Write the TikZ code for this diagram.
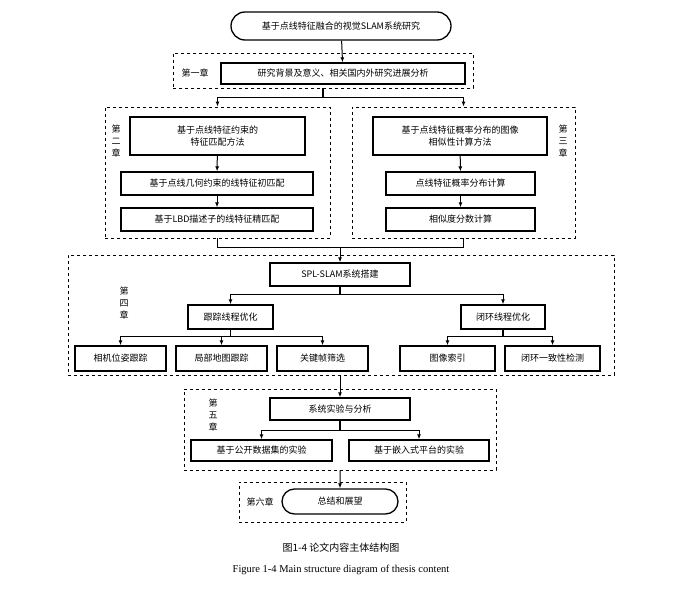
\documentclass[tikz,border=0pt]{standalone}
\usepackage{fontspec}
\setmainfont{Liberation Serif}
\newfontfamily\cjk{Noto Sans CJK SC}
\usetikzlibrary{arrows.meta,positioning,shapes.misc}
\begin{document}
\begin{tikzpicture}[x=1pt,y=-1pt,>={Latex[length=5pt,width=4pt]},
  box/.style={draw,line width=1.3pt,inner sep=1pt,font=\cjk\fontsize{9}{12}\selectfont,align=center},
  rbox/.style={box,rounded rectangle},
  dbox/.style={draw,dashed,line width=0.8pt,inner sep=0pt},
  lab/.style={font=\cjk\fontsize{9}{12}\selectfont,align=center,inner sep=0pt},
  line/.style={line width=1.3pt},
  arr/.style={line width=1pt,->}]
\useasboundingbox (0,0) rectangle (679,594);
% dashed chapter frames
\node[dbox,minimum width=300,minimum height=35] (c1) at (323,70.5) {};
\node[dbox,minimum width=225,minimum height=131] (c2) at (217.5,172.5) {};
\node[dbox,minimum width=223,minimum height=131] (c3) at (463.5,172.5) {};
\node[dbox,minimum width=546,minimum height=120] (c4) at (341,315) {};
\node[dbox,minimum width=312,minimum height=81] (c5) at (340,429.5) {};
\node[dbox,minimum width=167,minimum height=40] (c6) at (322.5,502) {};
% chapter labels
\node[lab] (l1) at (195,73) {第一章};
\node[lab] (l2) at (116,141) {第\\二\\章};
\node[lab] (l3) at (563,141) {第\\三\\章};
\node[lab] (l4) at (124,303) {第\\四\\章};
\node[lab] (l5) at (213,415) {第\\五\\章};
\node[lab] (l6) at (260,502) {第六章};
% boxes
\node[rbox,minimum width=222,minimum height=28] (top) at (341,26) {基于点线特征融合的视觉SLAM系统研究};
\node[box,minimum width=244,minimum height=21] (a1) at (343,73.5) {研究背景及意义、相关国内外研究进展分析};
\node[box,minimum width=175,minimum height=38] (b1) at (217.5,136) {基于点线特征约束的\\特征匹配方法};
\node[box,minimum width=192,minimum height=23] (b2) at (217,183.5) {基于点线几何约束的线特征初匹配};
\node[box,minimum width=192,minimum height=23] (b3) at (217,219.5) {基于LBD描述子的线特征精匹配};
\node[box,minimum width=174,minimum height=38] (d1) at (460,136) {基于点线特征概率分布的图像\\相似性计算方法};
\node[box,minimum width=149,minimum height=23] (d2) at (460.5,183.5) {点线特征概率分布计算};
\node[box,minimum width=149,minimum height=23] (d3) at (460.5,219.5) {相似度分数计算};
\node[box,minimum width=140,minimum height=23] (spl) at (340,274.5) {SPL-SLAM系统搭建};
\node[box,minimum width=85,minimum height=24] (trk) at (230.5,317) {跟踪线程优化};
\node[box,minimum width=84,minimum height=24] (lop) at (503,317) {闭环线程优化};
\node[box,minimum width=91,minimum height=25] (e1) at (120.5,358.5) {相机位姿跟踪};
\node[box,minimum width=91,minimum height=25] (e2) at (221.5,358.5) {局部地图跟踪};
\node[box,minimum width=91,minimum height=25] (e3) at (322.5,358.5) {关键帧筛选};
\node[box,minimum width=95,minimum height=25] (e4) at (447.5,358.5) {图像索引};
\node[box,minimum width=95,minimum height=25] (e5) at (552.5,358.5) {闭环一致性检测};
\node[box,minimum width=140,minimum height=22] (exp) at (340,409) {系统实验与分析};
\node[box,minimum width=141,minimum height=21] (f1) at (261.5,450.5) {基于公开数据集的实验};
\node[box,minimum width=140,minimum height=21] (f2) at (419,450.5) {基于嵌入式平台的实验};
\node[rbox,minimum width=118,minimum height=25] (end) at (340,501.5) {总结和展望};
% connectors
\draw[arr] (top) -- (a1);
\draw[line] (c1.south) -- ++(0,9) coordinate (s1);
\draw[arr] (s1) -| (c2.north);
\draw[arr] (s1) -| (c3.north);
\draw[arr] (b1) -- (b2);
\draw[arr] (b2) -- (b3);
\draw[arr] (d1) -- (d2);
\draw[arr] (d2) -- (d3);
\draw[line] (c2.south) -- ++(0,9) coordinate (m2) -| (c3.south);
\coordinate (m) at (spl.north |- m2);
\draw[arr] (m) -- (spl);
\draw[line] (spl.south) -- ++(0,8) coordinate (s4);
\draw[arr] (s4) -| (trk.north);
\draw[arr] (s4) -| (lop.north);
\draw[line] (trk.south) -- ++(0,7) coordinate (s5);
\draw[arr] (s5) -| (e1.north);
\draw[arr] (s5) -- (e2.north |- s5) -- (e2.north);
\draw[arr] (s5) -| (e3.north);
\draw[line] (lop.south) -- ++(0,7) coordinate (s6);
\draw[arr] (s6) -| (e4.north);
\draw[arr] (s6) -| (e5.north);
\draw[arr] (c4.south -| exp.north) -- (exp);
\draw[line] (exp.south) -- ++(0,10) coordinate (s7);
\draw[arr] (s7) -| (f1.north);
\draw[arr] (s7) -| (f2.north);
\draw[arr] (c5.south -| end.north) -- (end);
% caption
\node[font=\cjk\fontsize{10}{12}\selectfont] (cap1) at (341,548) {图1-4\ 论文内容主体结构图};
\node[font=\fontsize{10.5}{12}\selectfont] (cap2) at (341,570) {Figure 1-4 Main structure diagram of thesis content};
\end{tikzpicture}
\end{document}
